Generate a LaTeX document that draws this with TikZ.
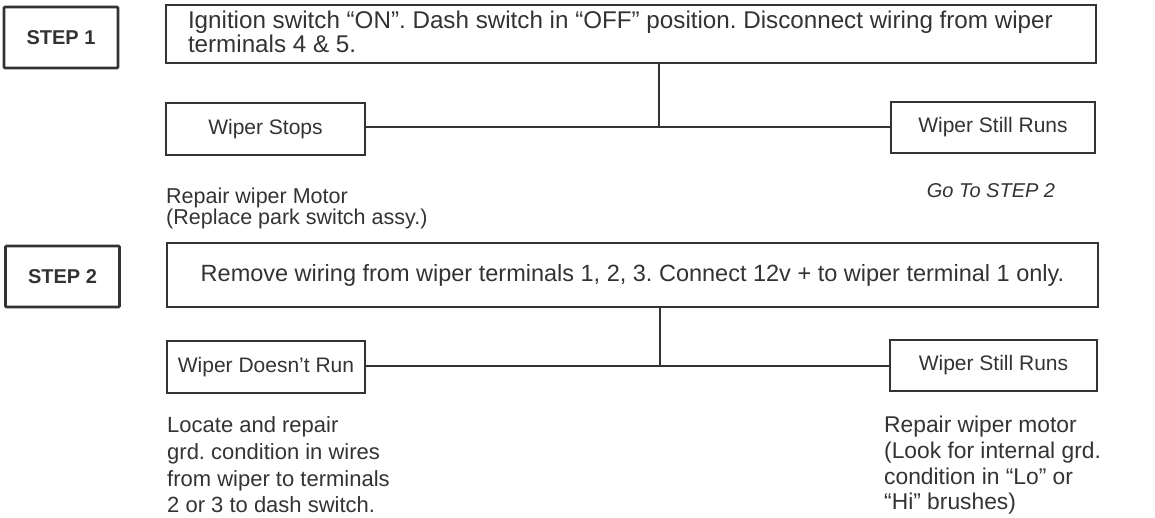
\documentclass[tikz,border=0pt]{standalone}
\usepackage{fontspec}
\setmainfont{Liberation Sans}
\definecolor{ink}{HTML}{333333}
\tikzset{
  steplabel/.style={draw=ink, line width=2.8pt, rounded corners=1pt, minimum width=114pt, minimum height=61pt, inner sep=0pt, font=\fontsize{20}{20}\selectfont\bfseries},
  mainbox/.style={draw=ink, line width=2.3pt, inner sep=0pt},
  resbox/.style={draw=ink, line width=1.6pt, inner sep=0pt, font=\fontsize{21}{21}\selectfont},
  note/.style={align=left, inner sep=0pt, anchor=north west},
  link/.style={draw=ink, line width=1.6pt}
}
\begin{document}
\frenchspacing
\begin{tikzpicture}[x=1pt,y=-1pt, every node/.style={text=ink, font=\fontsize{22}{20}\selectfont}]
\useasboundingbox (0,0) rectangle (1155,518);
% STEP 1
\node[steplabel] (s1) at (61,37.5) {STEP 1};
\node[mainbox, minimum width=930pt, minimum height=58pt, font=\fontsize{24.2}{19}\selectfont] (b1) at (631,34)
  {\parbox[c][46pt][t]{886pt}{Ignition switch “ON”. Dash switch in “OFF” position. Disconnect wiring from wiper\\terminals 4 \& 5.}};
\node[resbox, minimum width=199pt, minimum height=52pt] (ws) at (265.5,129) {Wiper Stops};
\node[resbox, minimum width=204pt, minimum height=51pt] (wr) at (993,127.5) {Wiper Still Runs};
\coordinate (j1) at (659,127);
\draw[link] (b1.south -| j1) -- (j1);
\draw[link] (ws.east |- j1) -- (wr.west |- j1);
\node[note, font=\fontsize{21.5}{21}\selectfont] (n1) at (166,187.5) {Repair wiper Motor\\(Replace park switch assy.)};
\node[font=\fontsize{20}{20}\selectfont\itshape] (g2) at (991,191) {Go To STEP 2};
% STEP 2
\node[steplabel] (s2) at (62.5,276.5) {STEP 2};
\node[mainbox, minimum width=931pt, minimum height=64pt, font=\fontsize{23.5}{20}\selectfont] (b2) at (632.5,275)
  {Remove wiring from wiper terminals 1, 2, 3. Connect 12v + to wiper terminal 1 only.};
\node[resbox, minimum width=198pt, minimum height=52pt] (wd) at (266,367) {Wiper Doesn't Run};
\node[resbox, minimum width=207pt, minimum height=51pt] (wr2) at (993.5,365.5) {Wiper Still Runs};
\coordinate (j2) at (660,366);
\draw[link] (b2.south -| j2) -- (j2);
\draw[link] (wd.east |- j2) -- (wr2.west |- j2);
\node[note, font=\fontsize{22}{26.7}\selectfont] (n2) at (167,416.5) {Locate and repair\\grd. condition in wires\\from wiper to terminals\\2 or 3 to dash switch.};
\node[note, font=\fontsize{22.8}{25.7}\selectfont] (n3) at (884,416) {Repair wiper motor\\(Look for internal grd.\\condition in “Lo” or\\“Hi” brushes)};
\end{tikzpicture}
\end{document}
